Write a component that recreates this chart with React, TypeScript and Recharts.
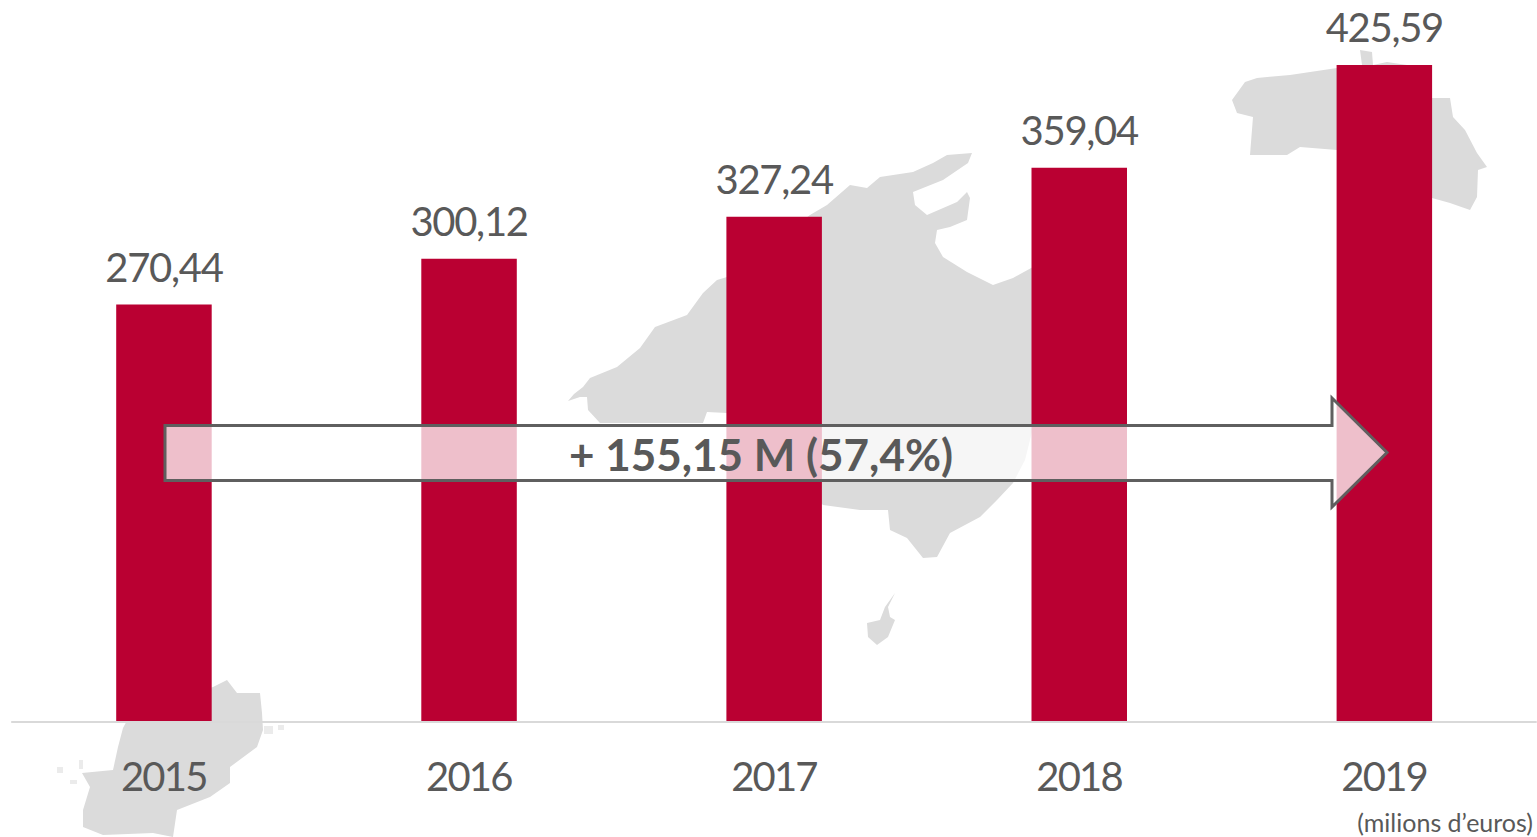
import React from "react";
import { BarChart, Bar, XAxis, YAxis, LabelList } from "recharts";

const years = ["2015", "2016", "2017", "2018", "2019"];
const revenue = [270.44, 300.12, 327.24, 359.04, 425.59];
const chartData = years.map((year, i) => ({ year, revenue: revenue[i] }));
const arrowLabel = "+ 155,15 M (57,4%)";
const unitLabel = "(milions d’euros)";

const INK = "#595959";
const FONT = "Lato, Carlito, sans-serif";

const mallorca =
  "568,401 574,394 583,387 590,378 617,367 640,348 655,327 687,315 703,293 717,280 727,277 810,215 827,205 850,185 867,188 880,177 913,172 933,163 947,155 972,153 968,163 943,180 913,192 915,205 927,215 957,202 967,192 970,198 967,220 950,227 937,230 935,243 943,257 967,272 993,285 1013,278 1033,267 1040,262 1040,400 1030,440 1025,460 1013,483 997,500 980,517 950,533 937,557 923,558 907,538 890,530 888,510 860,510 823,505 727,413 707,412 703,423 600,423 588,410 587,397 580,397";
const cabrera =
  "895,593 888,607 890,617 895,620 888,637 877,645 868,637 867,623 880,620 885,607";
const menorca =
  "1245,82 1232,100 1237,113 1253,117 1250,155 1287,155 1300,147 1337,150 1432,198 1450,203 1470,210 1477,197 1478,170 1487,167 1477,153 1465,130 1453,117 1450,98 1432,98 1407,65 1387,62 1373,65 1372,52 1360,50 1362,65 1337,68 1290,75 1257,78";
const ibiza =
  "213,687 227,680 237,693 260,693 262,713 263,730 257,747 230,767 230,783 210,797 177,810 173,837 153,833 103,835 83,827 83,810 90,787 82,773 113,770 118,747 123,728 130,715";
const specks = [
  [264, 726, 9, 8],
  [278, 725, 6, 5],
  [57, 767, 6, 6],
  [79, 760, 4, 9],
  [70, 780, 7, 4],
];

const layer: React.CSSProperties = { position: "absolute", left: 0, top: 0 };

export default function App() {
  return (
    <div style={{ position: "absolute", left: 0, top: 0, width: 1537, height: 837, overflow: "hidden", background: "#fff" }}>
      <svg width={1537} height={837} style={{ ...layer, filter: "blur(0.7px)" }}>
        <g fill="#DBDBDB">
          <polygon points={mallorca} />
          <polygon points={cabrera} />
          <polygon points={menorca} />
          <polygon points={ibiza} />
          {specks.map(([x, y, w, h], i) => (
            <rect key={i} x={x} y={y} width={w} height={h} fillOpacity={0.55} />
          ))}
        </g>
      </svg>
      <div style={layer}>
        <BarChart
          width={1537}
          height={837}
          data={chartData}
          margin={{ top: 5, right: 0.3, bottom: 0, left: 11.2 }}
          barCategoryGap={0}
        >
          <XAxis
            dataKey="year"
            height={115}
            tickLine={false}
            axisLine={{ stroke: "#D9D9D9", strokeWidth: 2 }}
            tickMargin={35}
            tick={{ fill: INK, fontSize: 40, fontFamily: FONT, letterSpacing: -1.8 }}
            interval={0}
          />
          <YAxis hide domain={[0, 464.5]} />
          <Bar dataKey="revenue" fill="#BA0032" barSize={95.5} isAnimationActive={false}>
            <LabelList
              dataKey="revenue"
              position="top"
              offset={23}
              fill={INK}
              fontSize={40}
              fontFamily={FONT}
              letterSpacing={-1.3}
              formatter={(v: number) => v.toFixed(2).replace(".", ",")}
            />
          </Bar>
        </BarChart>
      </div>
      <svg width={1537} height={837} style={layer}>
        <polygon
          points="165,425.5 1332,425.5 1332,398 1387,452.5 1332,507 1332,480.5 165,480.5"
          fill="#fff"
          fillOpacity={0.75}
          stroke="#5F5F5F"
          strokeWidth={3}
        />
        <text x={761} y={471} textAnchor="middle" fill={INK} fontFamily={FONT} fontWeight={700} fontSize={44}>
          {arrowLabel}
        </text>
        <text x={1533} y={831.5} textAnchor="end" fill={INK} fontFamily={FONT} fontSize={25}>
          {unitLabel}
        </text>
      </svg>
    </div>
  );
}
